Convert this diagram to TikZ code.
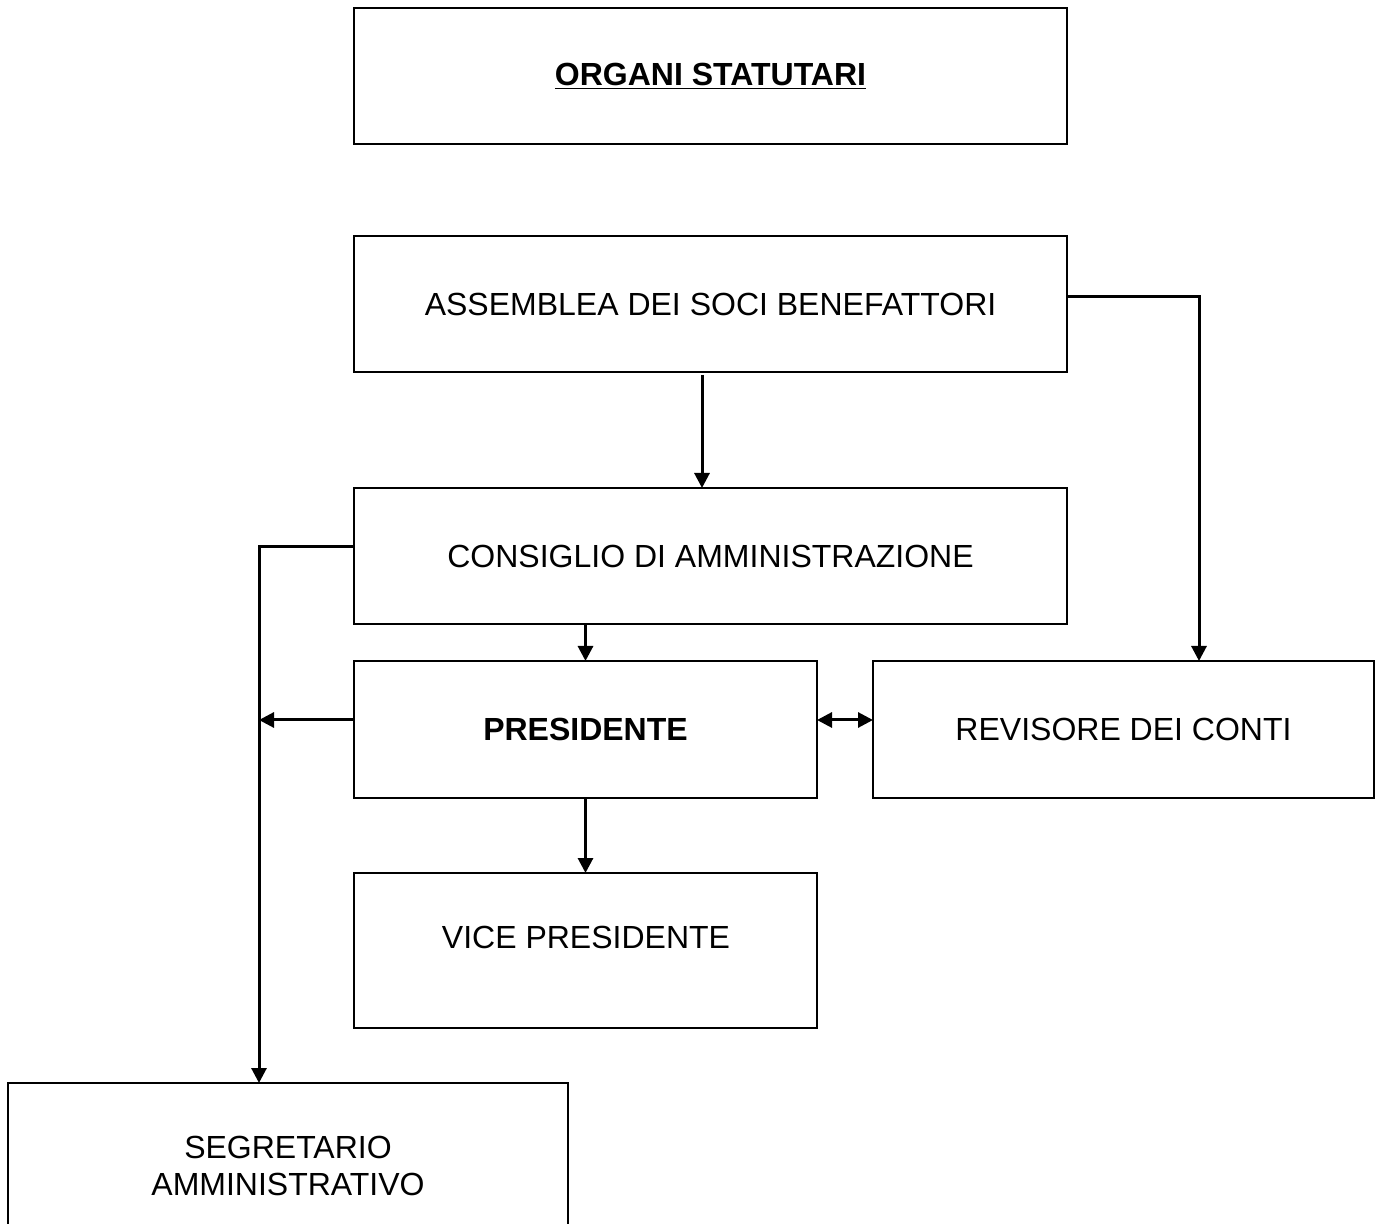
\documentclass[tikz,border=0pt]{standalone}
\usepackage{fontspec}
\setmainfont{Liberation Sans}
\usetikzlibrary{arrows.meta,calc}
\begin{document}
\begin{tikzpicture}[x=0.5pt,y=-0.5pt,
  box/.style={draw=black,line width=1pt,inner sep=0pt,outer sep=0pt,align=center,
    font=\fontsize{16pt}{18.5pt}\selectfont},
  arr/.style={line width=1.5pt,-{Triangle[length=7.5pt,width=7.5pt]}},
  darr/.style={line width=1.5pt,{Triangle[length=7.5pt,width=7.5pt]}-{Triangle[length=7.5pt,width=7.5pt]}},
  ln/.style={line width=1.5pt}]
\useasboundingbox (0,0) rectangle (1377,1224);
\node[box,minimum width=356.5pt,minimum height=68pt] (org) at (710.5,76) {\textbf{\underline{ORGANI STATUTARI}}};
\node[box,minimum width=356.5pt,minimum height=68pt] (ass) at (710.5,304) {ASSEMBLEA DEI SOCI BENEFATTORI};
\node[box,minimum width=356.5pt,minimum height=68pt] (con) at (710.5,556) {CONSIGLIO DI AMMINISTRAZIONE};
\node[box,minimum width=231.5pt,minimum height=68.5pt] (pres) at (585.5,729.5) {\textbf{PRESIDENTE}};
\node[box,minimum width=250.5pt,minimum height=68.5pt] (rev) at (1123.5,729.5) {REVISORE DEI CONTI};
\node[box,minimum width=231.5pt,minimum height=77.5pt] (vice) at (585.5,950.5) {};
\node[font=\fontsize{16pt}{18.5pt}\selectfont] (vicet) at (586,937) {VICE PRESIDENTE};
\node[box,minimum width=280pt,minimum height=88.5pt] (seg) at (288,1171.5) {};
\node[font=\fontsize{16pt}{18.5pt}\selectfont,align=center,inner sep=0pt] (segt) at (288,1166) {SEGRETARIO\\AMMINISTRATIVO};
\coordinate (segin) at ([xshift=-14.5pt]seg.north);
% connectors
\draw[arr] ([xshift=-4.25pt,yshift=-1.5pt]ass.south) -- ([xshift=-4.25pt]con.north);
\draw[arr] ([yshift=3.5pt]ass.east) -| ([xshift=37.75pt]rev.north);
\draw[arr] (con.south -| pres.north) -- (pres.north);
\draw[darr] ([yshift=4.75pt]pres.east) -- ([yshift=4.75pt]rev.west);
\draw[arr] (pres.south) -- (vice.north);
\draw[arr] ([yshift=4.5pt]con.west) -| (segin);
\draw[arr] ([yshift=4.75pt]pres.west) -- ([yshift=4.75pt]pres.west -| segin);
\end{tikzpicture}
\end{document}
